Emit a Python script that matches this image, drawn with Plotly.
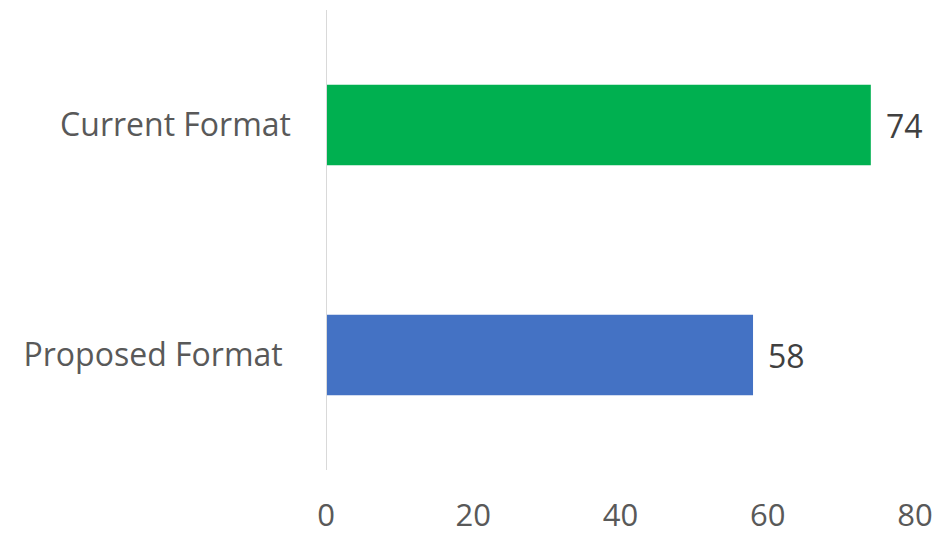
import plotly.graph_objects as go

categories = ["Proposed Format", "Current Format"]
category_labels = ["Proposed Format\u00a0", "Current Format"]
values = [58, 74]
bar_colors = ["#4472C4", "#00B050"]
x_ticks = [0, 20, 40, 60, 80]

FONT = "Open Sans, sans-serif"
FS = 32

fig = go.Figure()
fig.add_trace(go.Bar(
    y=categories, x=values, orientation="h",
    marker=dict(color=bar_colors, line=dict(width=0)),
    width=0.35,
    hoverinfo="skip",
))

for c, v in zip(categories, values):
    fig.add_annotation(
        x=v, y=c, text=str(v), showarrow=False,
        xanchor="left", xshift=13,
        font=dict(family=FONT, size=FS, color="#404040"),
    )

fig.update_layout(
    width=938, height=534,
    margin=dict(l=326, r=23, t=10, b=64),
    paper_bgcolor="white", plot_bgcolor="white",
    showlegend=False,
    font=dict(family=FONT, size=FS, color="#595959"),
    xaxis=dict(
        range=[0, 80], tickvals=x_ticks, showgrid=False, zeroline=False,
        showline=False, ticks="", ticklabelstandoff=24, automargin=False,
        tickfont=dict(family=FONT, size=FS - 1, color="#595959"),
    ),
    yaxis=dict(
        categoryorder="array", categoryarray=categories,
        tickvals=categories, ticktext=category_labels,
        range=[-0.5, 1.5], showgrid=False, zeroline=False,
        showline=False, ticks="", ticklabelstandoff=34, automargin=False,
        tickfont=dict(family=FONT, size=FS, color="#595959"),
    ),
    shapes=[dict(type="line", xref="x", yref="paper", x0=0, x1=0, y0=0, y1=1,
                 line=dict(color="#D9D9D9", width=2), layer="above")],
)

fig.write_html("out.html")
